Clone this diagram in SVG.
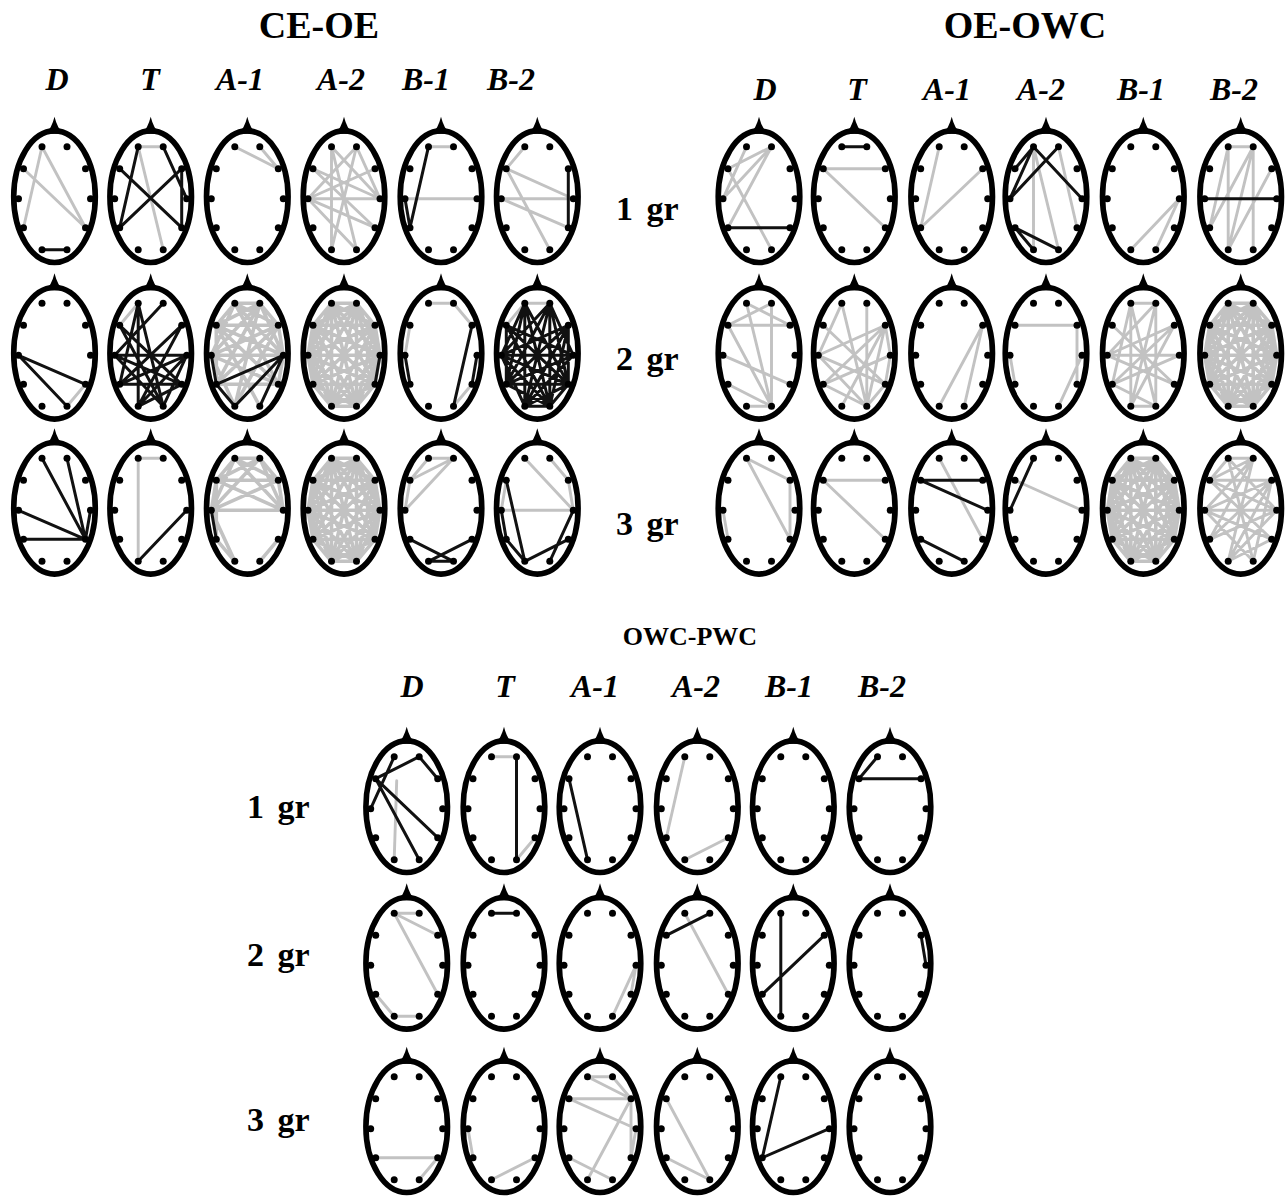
<svg xmlns="http://www.w3.org/2000/svg" width="1286" height="1196" viewBox="0 0 1286 1196">
<style>
.g{fill:none;stroke:#c2c2c2;stroke-width:2.9;stroke-linecap:round}
.k{fill:none;stroke:#111;stroke-width:3;stroke-linecap:round}
.w{stroke-width:3.6}
.title{font-family:"Liberation Serif","Times New Roman",serif;font-weight:bold;text-anchor:middle;fill:#000}
.col{font-family:"Liberation Serif","Times New Roman",serif;font-weight:bold;font-style:italic;font-size:32px;text-anchor:middle;fill:#000}
.row{font-family:"Liberation Serif","Times New Roman",serif;font-weight:bold;font-size:34px;fill:#000;word-spacing:5px}
</style>
<defs>
<g id="head">
<ellipse rx="40.8" ry="65.8" fill="none" stroke="#000" stroke-width="5.6"/>
<path d="M-9 -63Q-3 -68 0 -80Q3 -68 9 -63Z" fill="#000"/>
<g fill="#000">
<circle cx="-12.5" cy="-50" r="3.5"/><circle cx="12.5" cy="-50" r="3.5"/>
<circle cx="-31" cy="-28" r="3.5"/><circle cx="31" cy="-28" r="3.5"/>
<circle cx="-36" cy="2" r="3.5"/><circle cx="36" cy="2" r="3.5"/>
<circle cx="-31" cy="31" r="3.5"/><circle cx="31" cy="31" r="3.5"/>
<circle cx="-12.5" cy="53" r="3.5"/><circle cx="12.5" cy="53" r="3.5"/>
</g>
</g>
<path id="web" class="g w" d="M-12.5 -50L12.5 -50M-12.5 -50L-31 -28M-12.5 -50L31 -28M-12.5 -50L-36 2M-12.5 -50L36 2M-12.5 -50L-31 31M-12.5 -50L31 31M-12.5 -50L-12.5 53M-12.5 -50L12.5 53M12.5 -50L-31 -28M12.5 -50L31 -28M12.5 -50L-36 2M12.5 -50L36 2M12.5 -50L-31 31M12.5 -50L31 31M12.5 -50L-12.5 53M12.5 -50L12.5 53M-31 -28L31 -28M-31 -28L-36 2M-31 -28L36 2M-31 -28L-31 31M-31 -28L31 31M-31 -28L-12.5 53M-31 -28L12.5 53M31 -28L-36 2M31 -28L36 2M31 -28L-31 31M31 -28L31 31M31 -28L-12.5 53M31 -28L12.5 53M-36 2L36 2M-36 2L-31 31M-36 2L31 31M-36 2L-12.5 53M-36 2L12.5 53M36 2L-31 31M36 2L31 31M36 2L-12.5 53M36 2L12.5 53M-31 31L31 31M-31 31L-12.5 53M-31 31L12.5 53M31 31L-12.5 53M31 31L12.5 53M-12.5 53L12.5 53"/>
</defs>
<rect width="1286" height="1196" fill="#fff"/>

<g id="titles">
<text class="title" x="319" y="38" font-size="38">CE-OE</text>
<text class="title" x="1025" y="38" font-size="38">OE-OWC</text>
<text class="title" x="690" y="645" font-size="26">OWC-PWC</text>
</g>

<g id="column-labels">
<text class="col" x="57" y="90">D</text><text class="col" x="150" y="90">T</text><text class="col" x="240" y="90">A-1</text><text class="col" x="341" y="90">A-2</text><text class="col" x="426" y="90">B-1</text><text class="col" x="511" y="90">B-2</text>
<text class="col" x="765" y="100">D</text><text class="col" x="857" y="100">T</text><text class="col" x="947" y="100">A-1</text><text class="col" x="1041" y="100">A-2</text><text class="col" x="1141" y="100">B-1</text><text class="col" x="1234" y="100">B-2</text>
<text class="col" x="412" y="697">D</text><text class="col" x="505" y="697">T</text><text class="col" x="595" y="697">A-1</text><text class="col" x="696" y="697">A-2</text><text class="col" x="789" y="697">B-1</text><text class="col" x="882" y="697">B-2</text>
</g>

<g id="row-labels">
<text class="row" x="616" y="220">1 gr</text>
<text class="row" x="616" y="370">2 gr</text>
<text class="row" x="616" y="535">3 gr</text>
<text class="row" x="247" y="818">1 gr</text>
<text class="row" x="247" y="966">2 gr</text>
<text class="row" x="247" y="1131">3 gr</text>
</g>

<!-- CE-OE row 1 -->
<g id="ceoe-1-D" transform="translate(54.5 196.7)"><path class="g" d="M-12.5 -50L-31 31M-12.5 -50L31 31M-31 -28L31 31"/><path class="k" d="M-12.5 53L12.5 53"/><use href="#head"/></g>
<g id="ceoe-1-T" transform="translate(150.7 196.7)"><path class="g" d="M-12.5 -50L12.5 -50M-12.5 -50L12.5 53"/><path class="k" d="M-12.5 -50L-31 31M12.5 -50L36 2M-31 -28L31 31M31 -28L-31 31M31 -28L31 31"/><use href="#head"/></g>
<g id="ceoe-1-A1" transform="translate(247.3 196.7)"><path class="g" d="M-12.5 -50L31 -28M12.5 -50L31 -28"/><use href="#head"/></g>
<g id="ceoe-1-A2" transform="translate(344 196.7)"><path class="g" d="M-36 2L12.5 -50M-36 2L31 -28M-36 2L36 2M-36 2L31 31M-36 2L12.5 53M-12.5 -50L36 2M12.5 -50L36 2M-31 -28L31 31M-12.5 -50L-12.5 53M12.5 -50L-12.5 53M-31 -28L36 2M-12.5 -50L12.5 53"/><use href="#head"/></g>
<g id="ceoe-1-B1" transform="translate(441 196.7)"><path class="g" d="M-12.5 -50L12.5 -50M-36 2L36 2"/><path class="k" d="M-12.5 -50L-31 31M-36 2L-31 31"/><use href="#head"/></g>
<g id="ceoe-1-B2" transform="translate(537.3 196.7)"><path class="g" d="M-12.5 -50L-31 -28M-31 -28L36 2M-36 2L36 2M-36 2L31 31M-31 -28L12.5 53"/><path class="k" d="M31 -28L31 31"/><use href="#head"/></g>

<!-- CE-OE row 2 -->
<g id="ceoe-2-D" transform="translate(54.5 353.3)"><path class="g" d="M31 31L12.5 53"/><path class="k" d="M-36 2L31 31M-36 2L12.5 53"/><use href="#head"/></g>
<g id="ceoe-2-T" transform="translate(150.7 353.3)"><path class="g" d="M-12.5 -50L-31 -28"/><path class="k" d="M-12.5 -50L-12.5 53M-12.5 -50L-31 31M-12.5 -50L12.5 53M12.5 -50L-36 2M31 -28L-31 31M31 -28L-12.5 53M-36 2L36 2M-36 2L31 31M-31 31L36 2M-31 31L31 31M-36 2L12.5 53M-31 -28L31 31M-12.5 53L36 2M12.5 53L36 2M31 31L-12.5 53M-31 -28L12.5 53"/><use href="#head"/></g>
<g id="ceoe-2-A1" transform="translate(247.3 353.3)"><path class="g w" d="M-12.5 -50L12.5 -50M-12.5 -50L-31 -28M-12.5 -50L31 -28M-12.5 -50L-36 2M-12.5 -50L36 2M-12.5 -50L31 31M12.5 -50L-31 -28M12.5 -50L31 -28M12.5 -50L-36 2M12.5 -50L36 2M12.5 -50L-31 31M-31 -28L31 -28M-31 -28L36 2M-31 -28L31 31M-31 -28L-31 31M31 -28L-36 2M31 -28L36 2M31 -28L-31 31M-36 2L36 2M-36 2L31 31M-36 2L-12.5 53M-31 -28L12.5 53M12.5 -50L-12.5 53M31 -28L-12.5 53M-31 31L31 31M36 2L31 31"/><path class="k" d="M-31 31L36 2M-31 31L-12.5 53M-12.5 53L36 2M12.5 53L36 2M-36 2L-31 31"/><use href="#head"/></g>
<g id="ceoe-2-A2" transform="translate(344 353.3)"><use href="#web"/><path class="k" d="M36 2L31 31"/><use href="#head"/></g>
<g id="ceoe-2-B1" transform="translate(441 353.3)"><path class="g" d="M-12.5 -50L12.5 -50M12.5 -50L31 -28M-31 -28L-36 2M31 31L12.5 53"/><path class="k" d="M31 -28L12.5 53M36 2L31 31M-36 2L-31 31"/><use href="#head"/></g>
<g id="ceoe-2-B2" transform="translate(537.3 353.3)"><path class="g" d="M-12.5 -50L12.5 -50M-12.5 -50L-31 -28"/><path class="k" d="M-12.5 -50L-36 2M-12.5 -50L-31 31M-12.5 -50L-12.5 53M-12.5 -50L12.5 53M-12.5 -50L31 31M12.5 -50L-36 2M12.5 -50L-31 31M12.5 -50L-12.5 53M12.5 -50L12.5 53M12.5 -50L31 31M12.5 -50L36 2M31 -28L-36 2M31 -28L-31 31M31 -28L-12.5 53M31 -28L12.5 53M-31 -28L36 2M-31 -28L31 31M-31 -28L12.5 53M-36 2L36 2M-36 2L31 31M-31 31L31 31M-31 31L36 2M-36 2L12.5 53M-31 31L12.5 53M-12.5 53L31 31M-12.5 53L36 2M-12.5 53L12.5 53M-36 2L-12.5 53M31 31L12.5 53M31 -28L31 31M-31 -28L-31 31"/><use href="#head"/></g>

<!-- CE-OE row 3 -->
<g id="ceoe-3-D" transform="translate(54.5 508.3)"><path class="k" d="M-12.5 -50L31 31M12.5 -50L31 31M-36 2L31 31M-31 31L31 31M36 2L31 31"/><use href="#head"/></g>
<g id="ceoe-3-T" transform="translate(150.7 508.3)"><path class="g" d="M-12.5 -50L12.5 -50M-12.5 -50L-12.5 53"/><path class="k" d="M-12.5 53L36 2"/><use href="#head"/></g>
<g id="ceoe-3-A1" transform="translate(247.3 508.3)"><path class="g w" d="M-12.5 -50L12.5 -50M-12.5 -50L31 -28M-12.5 -50L36 2M12.5 -50L-31 -28M12.5 -50L-36 2M-31 -28L31 -28M-31 -28L36 2M31 -28L-36 2M-36 2L36 2M-31 -28L-36 2M-12.5 -50L-36 2M12.5 -50L36 2M-31 -28L-31 31M-36 2L-12.5 53M-31 31L-12.5 53M12.5 53L31 31M-12.5 -50L-31 -28M12.5 -50L31 -28M31 -28L36 2"/><path class="k" d="M-36 2L-31 31"/><use href="#head"/></g>
<g id="ceoe-3-A2" transform="translate(344 508.3)"><use href="#web"/><use href="#head"/></g>
<g id="ceoe-3-B1" transform="translate(441 508.3)"><path class="g" d="M-12.5 -50L12.5 -50M-12.5 -50L-31 -28M12.5 -50L-31 -28M12.5 -50L-36 2M-31 -28L-36 2"/><path class="k" d="M-31 31L12.5 53M31 31L-12.5 53M-12.5 53L12.5 53"/><use href="#head"/></g>
<g id="ceoe-3-B2" transform="translate(537.3 508.3)"><path class="g" d="M-12.5 -50L36 2M12.5 -50L31 -28M31 -28L36 2M-36 2L36 2M-31 -28L-36 2"/><path class="k" d="M-31 -28L-12.5 53M-36 2L-31 31M-31 31L-12.5 53M-12.5 53L31 31M36 2L12.5 53"/><use href="#head"/></g>

<!-- OE-OWC row 1 -->
<g id="oeowc-1-D" transform="translate(759 196.7)"><path class="g" d="M12.5 -50L-31 -28M12.5 -50L-36 2M12.5 -50L-31 31M-31 -28L12.5 53M-12.5 -50L-36 2"/><path class="k" d="M-31 31L31 31"/><use href="#head"/></g>
<g id="oeowc-1-T" transform="translate(854.3 196.7)"><path class="g" d="M-31 -28L31 -28M-31 -28L31 31"/><path class="k" d="M-12.5 -50L12.5 -50"/><use href="#head"/></g>
<g id="oeowc-1-A1" transform="translate(951.7 196.7)"><path class="g" d="M-12.5 -50L-31 31M-31 31L31 -28"/><use href="#head"/></g>
<g id="oeowc-1-A2" transform="translate(1046 196.7)"><path class="g" d="M-12.5 -50L-12.5 53M-12.5 -50L12.5 53M12.5 -50L31 31"/><path class="k" d="M-12.5 -50L-31 -28M-12.5 -50L-36 2M12.5 -50L-36 2M-12.5 -50L36 2M-31 31L-12.5 53M-31 31L12.5 53"/><use href="#head"/></g>
<g id="oeowc-1-B1" transform="translate(1143.3 196.7)"><path class="g" d="M-12.5 53L36 2M12.5 53L36 2"/><use href="#head"/></g>
<g id="oeowc-1-B2" transform="translate(1240.7 196.7)"><path class="g" d="M-12.5 -50L-31 31M-12.5 -50L-12.5 53M12.5 -50L-12.5 53M12.5 -50L12.5 53M12.5 -50L-31 31M-12.5 -50L12.5 -50M31 -28L-12.5 53"/><path class="k" d="M-36 2L36 2"/><use href="#head"/></g>

<!-- OE-OWC row 2 -->
<g id="oeowc-2-D" transform="translate(759 353.3)"><path class="g" d="M-12.5 -50L31 -28M12.5 -50L-31 -28M-31 -28L31 -28M12.5 -50L12.5 53M-31 -28L12.5 53M-36 2L31 31M-31 31L12.5 53M-12.5 53L12.5 53M-12.5 -50L12.5 53"/><use href="#head"/></g>
<g id="oeowc-2-T" transform="translate(854.3 353.3)"><path class="g" d="M-12.5 -50L-36 2M-12.5 -50L12.5 53M12.5 -50L12.5 53M31 -28L-36 2M31 -28L-31 31M31 -28L-12.5 53M31 -28L12.5 53M-36 2L31 31M-36 2L12.5 53M-31 31L12.5 53M-31 31L36 2M-31 -28L31 31M31 31L12.5 53M36 2L31 31M31 -28L36 2"/><use href="#head"/></g>
<g id="oeowc-2-A1" transform="translate(951.7 353.3)"><path class="g" d="M31 -28L-12.5 53M31 -28L12.5 53"/><use href="#head"/></g>
<g id="oeowc-2-A2" transform="translate(1046 353.3)"><path class="g" d="M-31 -28L31 -28M31 -28L31 31M36 2L12.5 53M-36 2L-31 31"/><use href="#head"/></g>
<g id="oeowc-2-B1" transform="translate(1143.3 353.3)"><path class="g" d="M-12.5 -50L12.5 -50M-12.5 -50L-31 31M-12.5 -50L-12.5 53M12.5 -50L-12.5 53M12.5 -50L12.5 53M31 -28L-36 2M31 -28L-31 31M36 2L-36 2M36 2L-31 31M-31 -28L31 31M-36 2L31 31M-31 31L12.5 53M-12.5 53L12.5 53M12.5 -50L-36 2M31 -28L-12.5 53M-12.5 -50L12.5 53"/><use href="#head"/></g>
<g id="oeowc-2-B2" transform="translate(1240.7 353.3)"><use href="#web"/><use href="#head"/></g>

<!-- OE-OWC row 3 -->
<g id="oeowc-3-D" transform="translate(759 508.3)"><path class="g" d="M-12.5 -50L31 -28M-12.5 -50L31 31M31 -28L31 31M-36 2L-31 31"/><use href="#head"/></g>
<g id="oeowc-3-T" transform="translate(854.3 508.3)"><path class="g" d="M-31 -28L31 -28M-31 -28L31 31"/><use href="#head"/></g>
<g id="oeowc-3-A1" transform="translate(951.7 508.3)"><path class="g" d="M-12.5 -50L31 31"/><path class="k" d="M-31 -28L31 -28M-31 -28L36 2M-31 31L12.5 53"/><use href="#head"/></g>
<g id="oeowc-3-A2" transform="translate(1046 508.3)"><path class="g" d="M-31 -28L36 2"/><path class="k" d="M-12.5 -50L-36 2"/><use href="#head"/></g>
<g id="oeowc-3-B1" transform="translate(1143.3 508.3)"><use href="#web"/><use href="#head"/></g>
<g id="oeowc-3-B2" transform="translate(1240.7 508.3)"><path class="g" d="M-12.5 -50L12.5 -50M-12.5 -50L-31 -28M-12.5 -50L36 2M-12.5 -50L12.5 53M12.5 -50L-31 -28M12.5 -50L-36 2M12.5 -50L-31 31M12.5 -50L-12.5 53M-31 -28L31 -28M-31 -28L36 2M-31 -28L31 31M31 -28L-36 2M31 -28L-12.5 53M-36 2L31 31M-36 2L12.5 53M-31 31L31 -28M36 2L-12.5 53M36 2L-31 31M31 31L-12.5 53M12.5 53L31 -28M-36 2L36 2"/><use href="#head"/></g>

<!-- OWC-PWC row 1 -->
<g id="owcpwc-1-D" transform="translate(406.7 806.7)"><path class="g" d="M-10 -26L-12.5 53"/><path class="k" d="M-12.5 -50L-36 2M-31 -28L12.5 -50M12.5 -50L31 -28M-31 -28L31 31M-31 -28L12.5 53"/><use href="#head"/></g>
<g id="owcpwc-1-T" transform="translate(504 806.7)"><path class="g" d="M-12.5 -50L12.5 -50M12.5 53L31 31"/><path class="k" d="M12.5 -50L12.5 53"/><use href="#head"/></g>
<g id="owcpwc-1-A1" transform="translate(600 806.7)"><path class="k" d="M-31 -28L-12.5 53"/><use href="#head"/></g>
<g id="owcpwc-1-A2" transform="translate(697.3 806.7)"><path class="g" d="M-12.5 -50L-31 31M-12.5 53L31 31"/><use href="#head"/></g>
<g id="owcpwc-1-B1" transform="translate(793.3 806.7)"><use href="#head"/></g>
<g id="owcpwc-1-B2" transform="translate(890 806.7)"><path class="k" d="M-12.5 -50L-31 -28M-31 -28L31 -28"/><use href="#head"/></g>

<!-- OWC-PWC row 2 -->
<g id="owcpwc-2-D" transform="translate(406.7 963.3)"><path class="g" d="M-12.5 -50L12.5 -50M-12.5 -50L31 -28M-12.5 -50L31 31M-31 31L-12.5 53M-12.5 53L12.5 53"/><use href="#head"/></g>
<g id="owcpwc-2-T" transform="translate(504 963.3)"><path class="k" d="M-12.5 -50L12.5 -50"/><use href="#head"/></g>
<g id="owcpwc-2-A1" transform="translate(600 963.3)"><path class="g" d="M36 2L12.5 53M36 2L31 31"/><use href="#head"/></g>
<g id="owcpwc-2-A2" transform="translate(697.3 963.3)"><path class="g" d="M-12.5 -50L31 31"/><path class="k" d="M-31 -28L12.5 -50"/><use href="#head"/></g>
<g id="owcpwc-2-B1" transform="translate(793.3 963.3)"><path class="k" d="M-12.5 -50L-12.5 53M-31 31L31 -28"/><use href="#head"/></g>
<g id="owcpwc-2-B2" transform="translate(890 963.3)"><path class="k" d="M31 -28L36 2"/><use href="#head"/></g>

<!-- OWC-PWC row 3 -->
<g id="owcpwc-3-D" transform="translate(406.7 1126.7)"><path class="g" d="M-31 31L31 31M31 31L12.5 53"/><use href="#head"/></g>
<g id="owcpwc-3-T" transform="translate(504 1126.7)"><path class="g" d="M-36 2L-31 31M-12.5 53L31 31"/><use href="#head"/></g>
<g id="owcpwc-3-A1" transform="translate(600 1126.7)"><path class="g" d="M-12.5 -50L12.5 -50M-12.5 -50L31 -28M-31 -28L31 -28M-31 -28L36 2M31 -28L31 31M31 -28L-12.5 53M-31 31L12.5 53M36 2L31 31M12.5 -50L31 -28"/><use href="#head"/></g>
<g id="owcpwc-3-A2" transform="translate(697.3 1126.7)"><path class="g" d="M-31 -28L12.5 53M-31 31L12.5 53"/><use href="#head"/></g>
<g id="owcpwc-3-B1" transform="translate(793.3 1126.7)"><path class="k" d="M-12.5 -50L-31 31M-31 31L36 2"/><use href="#head"/></g>
<g id="owcpwc-3-B2" transform="translate(890 1126.7)"><use href="#head"/></g>
</svg>
